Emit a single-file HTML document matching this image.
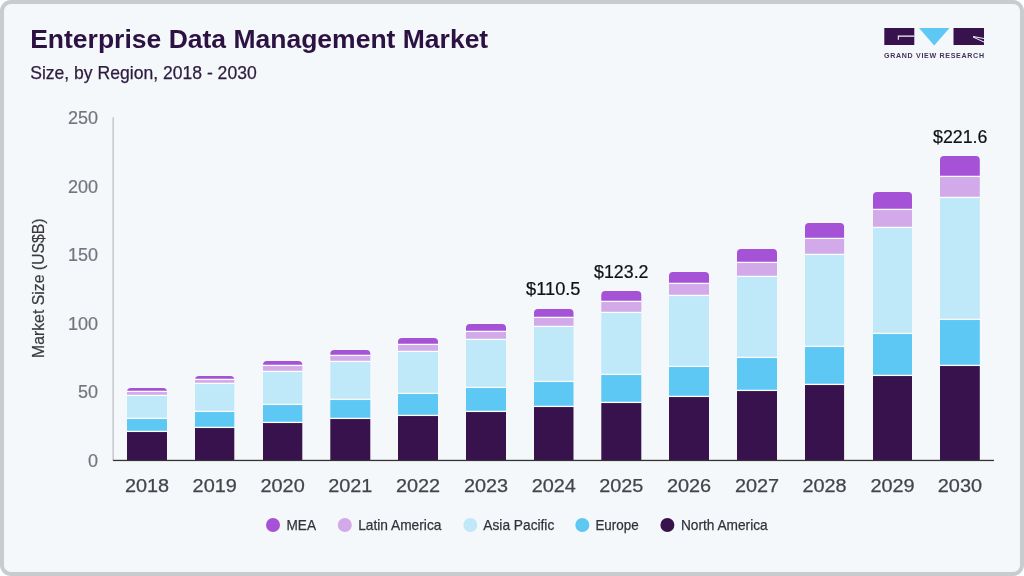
<!DOCTYPE html>
<html><head><meta charset="utf-8"><title>Enterprise Data Management Market</title>
<style>
html,body{margin:0;padding:0;background:#fff;}
body{width:1024px;height:576px;overflow:hidden;position:relative;font-family:"Liberation Sans",sans-serif;}
.card{position:absolute;left:0;top:0;width:1016px;height:568px;border:4px solid #c9cccc;border-radius:11px;background:#f5f8fb;}
svg{position:absolute;left:0;top:0;}
text{font-family:"Liberation Sans",sans-serif;}
</style></head><body>
<div class="card"></div>
<svg width="1024" height="576" viewBox="0 0 1024 576">
<text x="30.2" y="48.2" font-size="26.5" font-weight="bold" fill="#2c1243">Enterprise Data Management Market</text>
<text x="30.2" y="79.4" font-size="17.8" fill="#2d1c3e" stroke="#2d1c3e" stroke-width="0.25" textLength="226.5" lengthAdjust="spacingAndGlyphs">Size, by Region, 2018 - 2030</text>
<g id="logo">
<rect x="884.3" y="28" width="30" height="17" fill="#38124c"/>
<path d="M897.8 35.6 H914.3 V36.7 H898.9 V39.8 H897.8 Z" fill="#f5f8fb"/>
<path d="M919 28 H949.5 L934.2 45.6 Z" fill="#5cc8f3"/>
<rect x="953.5" y="28" width="30.5" height="17" fill="#38124c"/>
<path d="M973 36 L984 38 V39 L974.5 37.2 L984 41.5 V42.6 L973 37.5 Z" fill="#f5f8fb"/>
<text x="884" y="57.6" font-size="7.1" font-weight="bold" fill="#43325a" textLength="100" lengthAdjust="spacing">GRAND VIEW RESEARCH</text>
</g>
<rect x="112.4" y="117.3" width="1.5" height="343.6" fill="#c3c7cb"/>
<text x="98" y="467.2" font-size="18" fill="#72757d" stroke="#72757d" stroke-width="0.2" text-anchor="end">0</text>
<text x="98" y="397.9" font-size="18" fill="#72757d" stroke="#72757d" stroke-width="0.2" text-anchor="end">50</text>
<text x="98" y="329.5" font-size="18" fill="#72757d" stroke="#72757d" stroke-width="0.2" text-anchor="end">100</text>
<text x="98" y="261.0" font-size="18" fill="#72757d" stroke="#72757d" stroke-width="0.2" text-anchor="end">150</text>
<text x="98" y="192.6" font-size="18" fill="#72757d" stroke="#72757d" stroke-width="0.2" text-anchor="end">200</text>
<text x="98" y="124.1" font-size="18" fill="#72757d" stroke="#72757d" stroke-width="0.2" text-anchor="end">250</text>
<text transform="translate(43.6,288.2) rotate(-90)" font-size="17" fill="#3a3a3e" stroke="#3a3a3e" stroke-width="0.2" text-anchor="middle" textLength="139.6" lengthAdjust="spacingAndGlyphs">Market Size (US$B)</text>
<path d="M127.0 392 V392 Q127.0 388 131.0 388 H163.0 Q167.0 388 167.0 392 V392 Z" fill="#a552d6"/>
<rect x="127.0" y="392" width="40" height="4.0" fill="#d2a9e9"/>
<rect x="127.0" y="396" width="40" height="23.0" fill="#bfe8f9"/>
<rect x="127.0" y="419" width="40" height="13.0" fill="#5cc8f3"/>
<rect x="127.0" y="432" width="40" height="28.3" fill="#38124c"/>
<rect x="126.7" y="390.75" width="40.6" height="1.3" fill="#fbfdfe"/>
<rect x="126.7" y="394.75" width="40.6" height="1.3" fill="#fbfdfe"/>
<rect x="126.7" y="417.75" width="40.6" height="1.3" fill="#fbfdfe"/>
<rect x="126.7" y="430.75" width="40.6" height="1.3" fill="#fbfdfe"/>
<text x="147.0" y="492.4" font-size="18.8" fill="#42464a" stroke="#42464a" stroke-width="0.25" text-anchor="middle" textLength="44.2" lengthAdjust="spacingAndGlyphs">2018</text>
<path d="M195.0 380 V380 Q195.0 376 199.0 376 H230.3 Q234.3 376 234.3 380 V380 Z" fill="#a552d6"/>
<rect x="195.0" y="380" width="39.3" height="4.0" fill="#d2a9e9"/>
<rect x="195.0" y="384" width="39.3" height="28.0" fill="#bfe8f9"/>
<rect x="195.0" y="412" width="39.3" height="16.0" fill="#5cc8f3"/>
<rect x="195.0" y="428" width="39.3" height="32.3" fill="#38124c"/>
<rect x="194.7" y="378.75" width="39.9" height="1.3" fill="#fbfdfe"/>
<rect x="194.7" y="382.75" width="39.9" height="1.3" fill="#fbfdfe"/>
<rect x="194.7" y="410.75" width="39.9" height="1.3" fill="#fbfdfe"/>
<rect x="194.7" y="426.75" width="39.9" height="1.3" fill="#fbfdfe"/>
<text x="214.7" y="492.4" font-size="18.8" fill="#42464a" stroke="#42464a" stroke-width="0.25" text-anchor="middle" textLength="44.2" lengthAdjust="spacingAndGlyphs">2019</text>
<path d="M263.0 366 V365 Q263.0 361 267.0 361 H298.3 Q302.3 361 302.3 365 V366 Z" fill="#a552d6"/>
<rect x="263.0" y="366" width="39.3" height="6.0" fill="#d2a9e9"/>
<rect x="263.0" y="372" width="39.3" height="33.0" fill="#bfe8f9"/>
<rect x="263.0" y="405" width="39.3" height="18.0" fill="#5cc8f3"/>
<rect x="263.0" y="423" width="39.3" height="37.3" fill="#38124c"/>
<rect x="262.7" y="364.75" width="39.9" height="1.3" fill="#fbfdfe"/>
<rect x="262.7" y="370.75" width="39.9" height="1.3" fill="#fbfdfe"/>
<rect x="262.7" y="403.75" width="39.9" height="1.3" fill="#fbfdfe"/>
<rect x="262.7" y="421.75" width="39.9" height="1.3" fill="#fbfdfe"/>
<text x="282.6" y="492.4" font-size="18.8" fill="#42464a" stroke="#42464a" stroke-width="0.25" text-anchor="middle" textLength="44.2" lengthAdjust="spacingAndGlyphs">2020</text>
<path d="M330.3 356 V354 Q330.3 350 334.3 350 H366.3 Q370.3 350 370.3 354 V356 Z" fill="#a552d6"/>
<rect x="330.3" y="356" width="40.0" height="6.0" fill="#d2a9e9"/>
<rect x="330.3" y="362" width="40.0" height="38.0" fill="#bfe8f9"/>
<rect x="330.3" y="400" width="40.0" height="19.0" fill="#5cc8f3"/>
<rect x="330.3" y="419" width="40.0" height="41.3" fill="#38124c"/>
<rect x="330.0" y="354.75" width="40.6" height="1.3" fill="#fbfdfe"/>
<rect x="330.0" y="360.75" width="40.6" height="1.3" fill="#fbfdfe"/>
<rect x="330.0" y="398.75" width="40.6" height="1.3" fill="#fbfdfe"/>
<rect x="330.0" y="417.75" width="40.6" height="1.3" fill="#fbfdfe"/>
<text x="350.3" y="492.4" font-size="18.8" fill="#42464a" stroke="#42464a" stroke-width="0.25" text-anchor="middle" textLength="44.2" lengthAdjust="spacingAndGlyphs">2021</text>
<path d="M398.0 345 V342 Q398.0 338 402.0 338 H434.0 Q438.0 338 438.0 342 V345 Z" fill="#a552d6"/>
<rect x="398.0" y="345" width="40" height="7.0" fill="#d2a9e9"/>
<rect x="398.0" y="352" width="40" height="42.0" fill="#bfe8f9"/>
<rect x="398.0" y="394" width="40" height="22.0" fill="#5cc8f3"/>
<rect x="398.0" y="416" width="40" height="44.3" fill="#38124c"/>
<rect x="397.7" y="343.75" width="40.6" height="1.3" fill="#fbfdfe"/>
<rect x="397.7" y="350.75" width="40.6" height="1.3" fill="#fbfdfe"/>
<rect x="397.7" y="392.75" width="40.6" height="1.3" fill="#fbfdfe"/>
<rect x="397.7" y="414.75" width="40.6" height="1.3" fill="#fbfdfe"/>
<text x="418.0" y="492.4" font-size="18.8" fill="#42464a" stroke="#42464a" stroke-width="0.25" text-anchor="middle" textLength="44.2" lengthAdjust="spacingAndGlyphs">2022</text>
<path d="M466.0 332 V328 Q466.0 324 470.0 324 H502.0 Q506.0 324 506.0 328 V332 Z" fill="#a552d6"/>
<rect x="466.0" y="332" width="40" height="8.0" fill="#d2a9e9"/>
<rect x="466.0" y="340" width="40" height="48.0" fill="#bfe8f9"/>
<rect x="466.0" y="388" width="40" height="24.0" fill="#5cc8f3"/>
<rect x="466.0" y="412" width="40" height="48.3" fill="#38124c"/>
<rect x="465.7" y="330.75" width="40.6" height="1.3" fill="#fbfdfe"/>
<rect x="465.7" y="338.75" width="40.6" height="1.3" fill="#fbfdfe"/>
<rect x="465.7" y="386.75" width="40.6" height="1.3" fill="#fbfdfe"/>
<rect x="465.7" y="410.75" width="40.6" height="1.3" fill="#fbfdfe"/>
<text x="486.0" y="492.4" font-size="18.8" fill="#42464a" stroke="#42464a" stroke-width="0.25" text-anchor="middle" textLength="44.2" lengthAdjust="spacingAndGlyphs">2023</text>
<path d="M534.0 318 V313 Q534.0 309 538.0 309 H569.5 Q573.5 309 573.5 313 V318 Z" fill="#a552d6"/>
<rect x="534.0" y="318" width="39.5" height="9.0" fill="#d2a9e9"/>
<rect x="534.0" y="327" width="39.5" height="55.0" fill="#bfe8f9"/>
<rect x="534.0" y="382" width="39.5" height="25.0" fill="#5cc8f3"/>
<rect x="534.0" y="407" width="39.5" height="53.3" fill="#38124c"/>
<rect x="533.7" y="316.75" width="40.1" height="1.3" fill="#fbfdfe"/>
<rect x="533.7" y="325.75" width="40.1" height="1.3" fill="#fbfdfe"/>
<rect x="533.7" y="380.75" width="40.1" height="1.3" fill="#fbfdfe"/>
<rect x="533.7" y="405.75" width="40.1" height="1.3" fill="#fbfdfe"/>
<text x="553.8" y="492.4" font-size="18.8" fill="#42464a" stroke="#42464a" stroke-width="0.25" text-anchor="middle" textLength="44.2" lengthAdjust="spacingAndGlyphs">2024</text>
<path d="M601.3 302 V295 Q601.3 291 605.3 291 H637.3 Q641.3 291 641.3 295 V302 Z" fill="#a552d6"/>
<rect x="601.3" y="302" width="40.0" height="11.0" fill="#d2a9e9"/>
<rect x="601.3" y="313" width="40.0" height="62.0" fill="#bfe8f9"/>
<rect x="601.3" y="375" width="40.0" height="28.0" fill="#5cc8f3"/>
<rect x="601.3" y="403" width="40.0" height="57.3" fill="#38124c"/>
<rect x="601.0" y="300.75" width="40.6" height="1.3" fill="#fbfdfe"/>
<rect x="601.0" y="311.75" width="40.6" height="1.3" fill="#fbfdfe"/>
<rect x="601.0" y="373.75" width="40.6" height="1.3" fill="#fbfdfe"/>
<rect x="601.0" y="401.75" width="40.6" height="1.3" fill="#fbfdfe"/>
<text x="621.3" y="492.4" font-size="18.8" fill="#42464a" stroke="#42464a" stroke-width="0.25" text-anchor="middle" textLength="44.2" lengthAdjust="spacingAndGlyphs">2025</text>
<path d="M669.0 284 V276 Q669.0 272 673.0 272 H705.0 Q709.0 272 709.0 276 V284 Z" fill="#a552d6"/>
<rect x="669.0" y="284" width="40" height="12.0" fill="#d2a9e9"/>
<rect x="669.0" y="296" width="40" height="71.0" fill="#bfe8f9"/>
<rect x="669.0" y="367" width="40" height="30.0" fill="#5cc8f3"/>
<rect x="669.0" y="397" width="40" height="63.3" fill="#38124c"/>
<rect x="668.7" y="282.75" width="40.6" height="1.3" fill="#fbfdfe"/>
<rect x="668.7" y="294.75" width="40.6" height="1.3" fill="#fbfdfe"/>
<rect x="668.7" y="365.75" width="40.6" height="1.3" fill="#fbfdfe"/>
<rect x="668.7" y="395.75" width="40.6" height="1.3" fill="#fbfdfe"/>
<text x="689.0" y="492.4" font-size="18.8" fill="#42464a" stroke="#42464a" stroke-width="0.25" text-anchor="middle" textLength="44.2" lengthAdjust="spacingAndGlyphs">2026</text>
<path d="M737.0 263 V253 Q737.0 249 741.0 249 H773.0 Q777.0 249 777.0 253 V263 Z" fill="#a552d6"/>
<rect x="737.0" y="263" width="40" height="14.0" fill="#d2a9e9"/>
<rect x="737.0" y="277" width="40" height="81.0" fill="#bfe8f9"/>
<rect x="737.0" y="358" width="40" height="33.0" fill="#5cc8f3"/>
<rect x="737.0" y="391" width="40" height="69.3" fill="#38124c"/>
<rect x="736.7" y="261.75" width="40.6" height="1.3" fill="#fbfdfe"/>
<rect x="736.7" y="275.75" width="40.6" height="1.3" fill="#fbfdfe"/>
<rect x="736.7" y="356.75" width="40.6" height="1.3" fill="#fbfdfe"/>
<rect x="736.7" y="389.75" width="40.6" height="1.3" fill="#fbfdfe"/>
<text x="757.0" y="492.4" font-size="18.8" fill="#42464a" stroke="#42464a" stroke-width="0.25" text-anchor="middle" textLength="44.2" lengthAdjust="spacingAndGlyphs">2027</text>
<path d="M805.0 239 V227 Q805.0 223 809.0 223 H840.1 Q844.1 223 844.1 227 V239 Z" fill="#a552d6"/>
<rect x="805.0" y="239" width="39.1" height="16.0" fill="#d2a9e9"/>
<rect x="805.0" y="255" width="39.1" height="92.0" fill="#bfe8f9"/>
<rect x="805.0" y="347" width="39.1" height="38.0" fill="#5cc8f3"/>
<rect x="805.0" y="385" width="39.1" height="75.3" fill="#38124c"/>
<rect x="804.7" y="237.75" width="39.7" height="1.3" fill="#fbfdfe"/>
<rect x="804.7" y="253.75" width="39.7" height="1.3" fill="#fbfdfe"/>
<rect x="804.7" y="345.75" width="39.7" height="1.3" fill="#fbfdfe"/>
<rect x="804.7" y="383.75" width="39.7" height="1.3" fill="#fbfdfe"/>
<text x="824.5" y="492.4" font-size="18.8" fill="#42464a" stroke="#42464a" stroke-width="0.25" text-anchor="middle" textLength="44.2" lengthAdjust="spacingAndGlyphs">2028</text>
<path d="M873.0 210 V196 Q873.0 192 877.0 192 H908.0 Q912.0 192 912.0 196 V210 Z" fill="#a552d6"/>
<rect x="873.0" y="210" width="39" height="18.0" fill="#d2a9e9"/>
<rect x="873.0" y="228" width="39" height="106.0" fill="#bfe8f9"/>
<rect x="873.0" y="334" width="39" height="42.0" fill="#5cc8f3"/>
<rect x="873.0" y="376" width="39" height="84.3" fill="#38124c"/>
<rect x="872.7" y="208.75" width="39.6" height="1.3" fill="#fbfdfe"/>
<rect x="872.7" y="226.75" width="39.6" height="1.3" fill="#fbfdfe"/>
<rect x="872.7" y="332.75" width="39.6" height="1.3" fill="#fbfdfe"/>
<rect x="872.7" y="374.75" width="39.6" height="1.3" fill="#fbfdfe"/>
<text x="892.5" y="492.4" font-size="18.8" fill="#42464a" stroke="#42464a" stroke-width="0.25" text-anchor="middle" textLength="44.2" lengthAdjust="spacingAndGlyphs">2029</text>
<path d="M940.0 177 V160 Q940.0 156 944.0 156 H975.8 Q979.8 156 979.8 160 V177 Z" fill="#a552d6"/>
<rect x="940.0" y="177" width="39.8" height="21.0" fill="#d2a9e9"/>
<rect x="940.0" y="198" width="39.8" height="122.0" fill="#bfe8f9"/>
<rect x="940.0" y="320" width="39.8" height="46.0" fill="#5cc8f3"/>
<rect x="940.0" y="366" width="39.8" height="94.3" fill="#38124c"/>
<rect x="939.7" y="175.75" width="40.4" height="1.3" fill="#fbfdfe"/>
<rect x="939.7" y="196.75" width="40.4" height="1.3" fill="#fbfdfe"/>
<rect x="939.7" y="318.75" width="40.4" height="1.3" fill="#fbfdfe"/>
<rect x="939.7" y="364.75" width="40.4" height="1.3" fill="#fbfdfe"/>
<text x="959.9" y="492.4" font-size="18.8" fill="#42464a" stroke="#42464a" stroke-width="0.25" text-anchor="middle" textLength="44.2" lengthAdjust="spacingAndGlyphs">2030</text>
<rect x="113.1" y="459.8" width="880.9" height="1.3" fill="#333"/>
<text x="553.3" y="294.7" font-size="18" fill="#111" stroke="#111" stroke-width="0.2" text-anchor="middle" textLength="54.4" lengthAdjust="spacingAndGlyphs">$110.5</text>
<text x="621.3" y="277.8" font-size="18" fill="#111" stroke="#111" stroke-width="0.2" text-anchor="middle" textLength="54.4" lengthAdjust="spacingAndGlyphs">$123.2</text>
<text x="960.2" y="142.9" font-size="18" fill="#111" stroke="#111" stroke-width="0.2" text-anchor="middle" textLength="54.4" lengthAdjust="spacingAndGlyphs">$221.6</text>
<circle cx="273" cy="525" r="7" fill="#a552d6"/>
<text x="286.5" y="530.35" font-size="14.8" fill="#30343a" stroke="#30343a" stroke-width="0.25" textLength="29.5" lengthAdjust="spacingAndGlyphs">MEA</text>
<circle cx="344.8" cy="525" r="7" fill="#d2a9e9"/>
<text x="358.2" y="530.35" font-size="14.8" fill="#30343a" stroke="#30343a" stroke-width="0.25" textLength="83.2" lengthAdjust="spacingAndGlyphs">Latin America</text>
<circle cx="470.3" cy="525" r="7" fill="#bfe8f9"/>
<text x="483.3" y="530.35" font-size="14.8" fill="#30343a" stroke="#30343a" stroke-width="0.25" textLength="71" lengthAdjust="spacingAndGlyphs">Asia Pacific</text>
<circle cx="582.3" cy="525" r="7" fill="#5cc8f3"/>
<text x="595.4" y="530.35" font-size="14.8" fill="#30343a" stroke="#30343a" stroke-width="0.25" textLength="43.2" lengthAdjust="spacingAndGlyphs">Europe</text>
<circle cx="667.4" cy="525" r="7" fill="#38124c"/>
<text x="680.9" y="530.35" font-size="14.8" fill="#30343a" stroke="#30343a" stroke-width="0.25" textLength="86.8" lengthAdjust="spacingAndGlyphs">North America</text>
</svg>
</body></html>
